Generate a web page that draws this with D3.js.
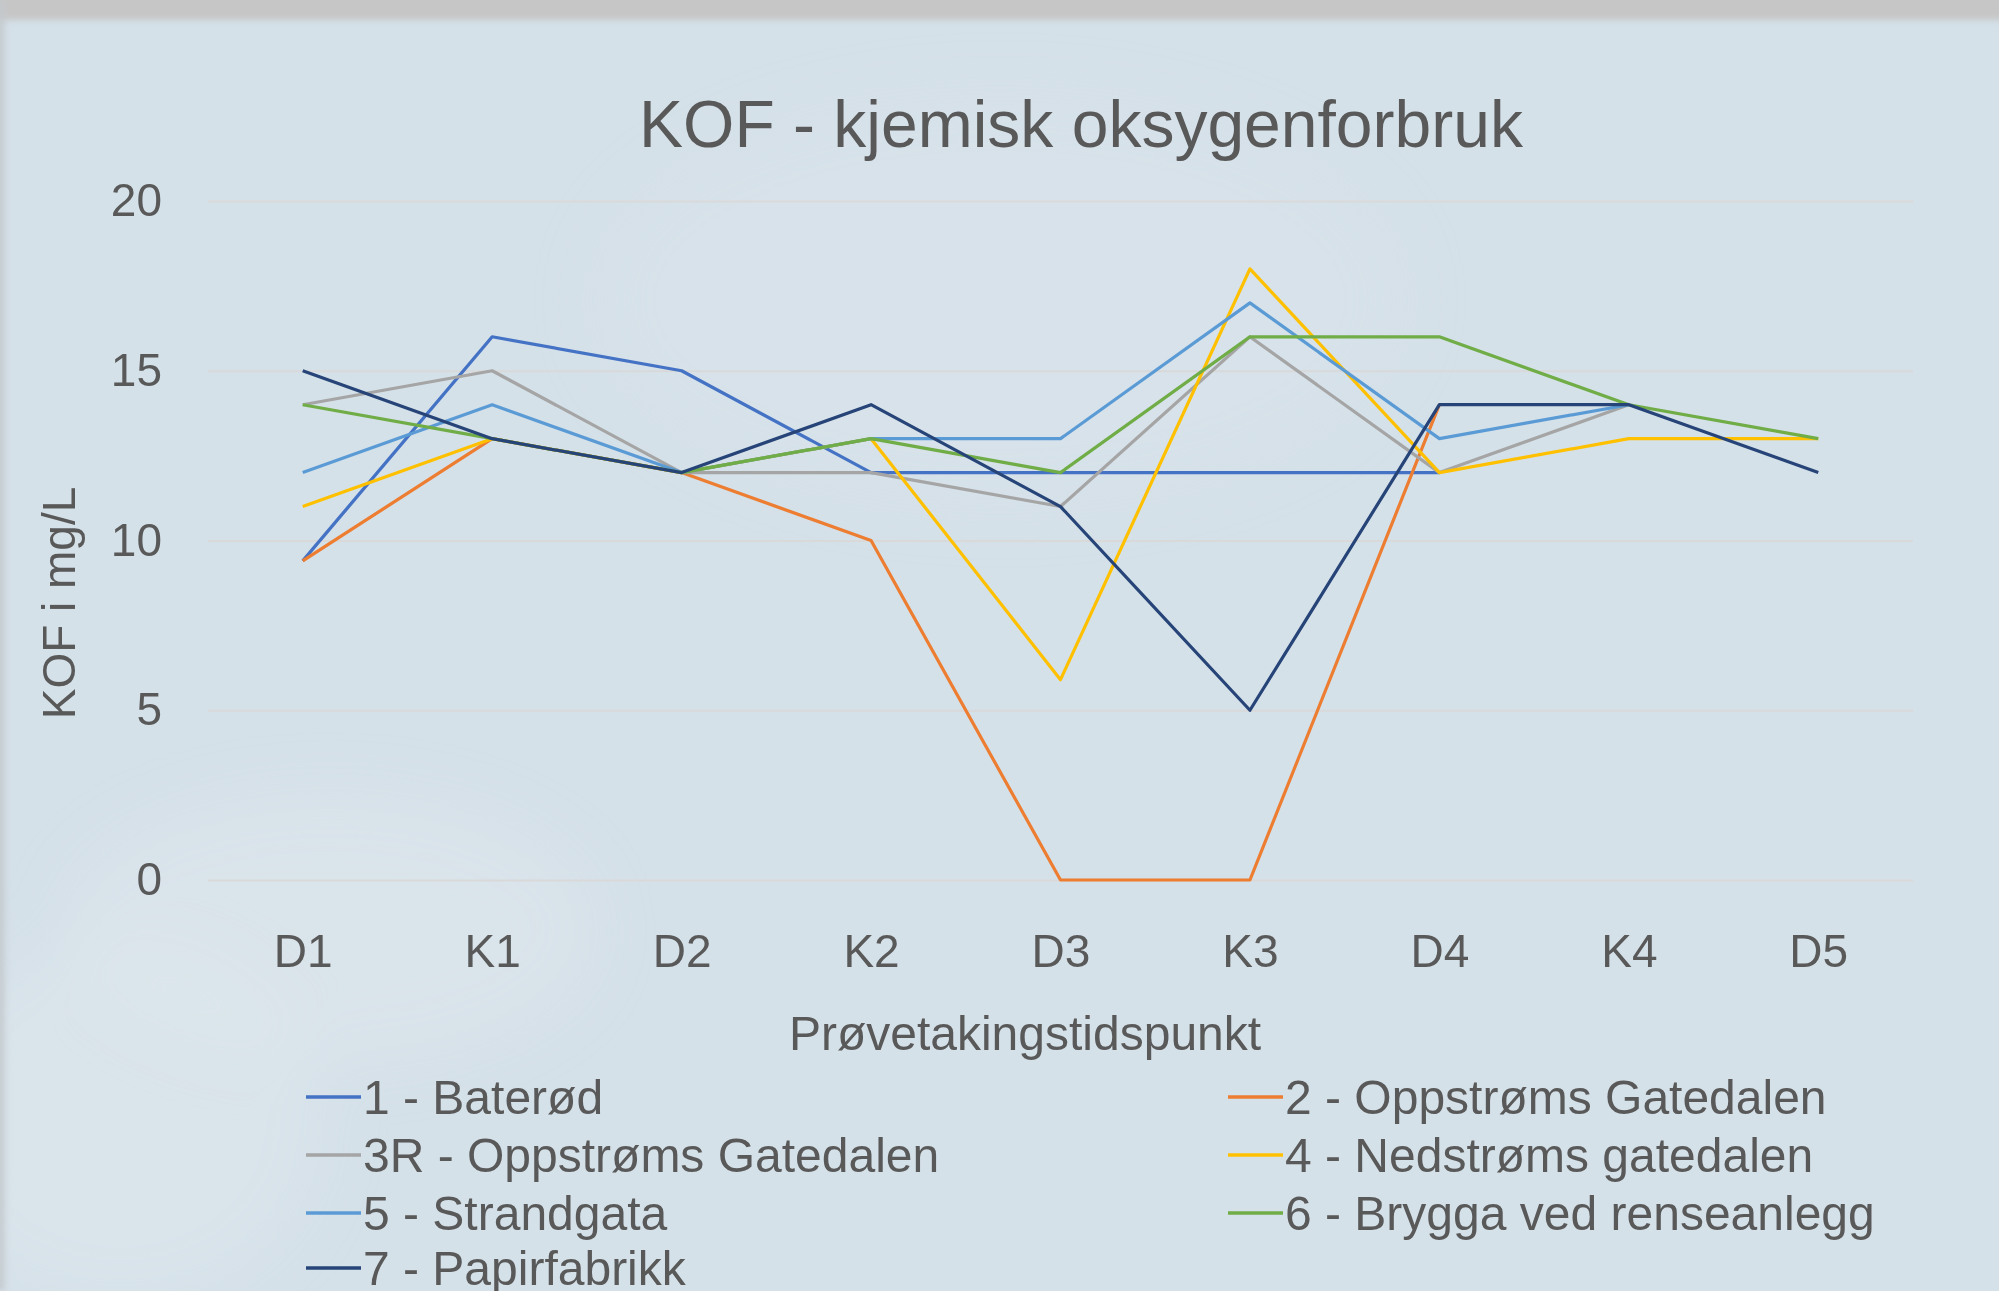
<!DOCTYPE html>
<html>
<head>
<meta charset="utf-8">
<script src="https://cdn.jsdelivr.net/npm/d3@7"></script>
<style>
  html, body { margin: 0; padding: 0; background: #d5e1e9; }
  svg { display: block; font-family: "Liberation Sans", Arial, sans-serif; }
</style>
</head>
<body>
<div id="chart"></div>
<script>
const categories = ['D1', 'K1', 'D2', 'K2', 'D3', 'K3', 'D4', 'K4', 'D5'];
const yTicks = [0, 5, 10, 15, 20];

const seriesNames = [
  '1 - Baterød',
  '2 - Oppstrøms Gatedalen',
  '3R - Oppstrøms Gatedalen',
  '4 - Nedstrøms gatedalen',
  '5 - Strandgata',
  '6 - Brygga ved renseanlegg',
  '7 - Papirfabrikk',
];

// values per sampling point, null = no measurement
const baterod = [9.4, 16, 15, 12, 12, 12, 12, null, null];
const oppstromsGatedalen = [9.4, 13, 12, 10, 0, 0, 14, null, null];
const oppstromsGatedalen3R = [14, 15, 12, 12, 11, 16, 12, 14, null];
const nedstromsGatedalen = [11, 13, 12, 13, 5.9, 18, 12, 13, 13];
const strandgata = [12, 14, 12, 13, 13, 17, 13, 14, null];
const brygga = [14, 13, 12, 13, 12, 16, 16, 14, 13];
const papirfabrikk = [15, 13, 12, 14, 11, 5, 14, 14, 12];

const seriesValues = [
  baterod, oppstromsGatedalen, oppstromsGatedalen3R, nedstromsGatedalen,
  strandgata, brygga, papirfabrikk,
];
const colors = ['#4472c4', '#ed7d31', '#a5a5a5', '#ffc000', '#5b9bd5', '#70ad47', '#264478'];

const width = 1999;
const height = 1291;
const plot = { left: 208, right: 1913, top: 201, bottom: 880 };
const textColor = '#595959';

const svg = d3.select('#chart')
  .append('svg')
  .attr('width', width)
  .attr('height', height);

// background: pale blue slide with a faint blurred snowy photo
const defs = svg.append('defs');
defs.append('filter').attr('id', 'soft')
  .attr('x', '-50%').attr('y', '-50%').attr('width', '200%').attr('height', '200%')
  .append('feGaussianBlur').attr('stdDeviation', 30);
defs.append('filter').attr('id', 'edge')
  .append('feGaussianBlur').attr('stdDeviation', 3);

svg.append('rect').attr('width', width).attr('height', height).attr('fill', '#d5e1e9');

const bg = svg.append('g').attr('filter', 'url(#soft)');
bg.append('ellipse').attr('cx', 330).attr('cy', 930).attr('rx', 260).attr('ry', 130)
  .attr('fill', '#dfe8ee').attr('opacity', 0.5);
bg.append('ellipse').attr('cx', 120).attr('cy', 1120).attr('rx', 200).attr('ry', 180)
  .attr('fill', '#dde7ed').attr('opacity', 0.5);
bg.append('ellipse').attr('cx', 1000).attr('cy', 300).attr('rx', 400).attr('ry', 200)
  .attr('fill', '#d9e4eb').attr('opacity', 0.5);

const frame = svg.append('g').attr('filter', 'url(#edge)');
frame.append('rect').attr('x', -10).attr('y', -10).attr('width', width + 20).attr('height', 30)
  .attr('fill', '#c6c6c6');
frame.append('rect').attr('x', -10).attr('y', 0).attr('width', 15).attr('height', height)
  .attr('fill', '#c3c8cc').attr('opacity', 0.8);

// scales
const x = d3.scalePoint()
  .domain(categories)
  .range([plot.left, plot.right])
  .padding(0.5);

const y = d3.scaleLinear()
  .domain([0, 20])
  .range([plot.bottom, plot.top]);

// gridlines + y labels
const yG = svg.append('g')
  .attr('transform', `translate(${plot.left},0)`)
  .call(d3.axisLeft(y).tickValues(yTicks).tickSize(-(plot.right - plot.left)).tickPadding(46));
yG.select('.domain').remove();
yG.selectAll('.tick line').attr('stroke', '#d9d9d9').attr('stroke-width', 2);
yG.selectAll('.tick text')
  .attr('fill', textColor)
  .style('font-size', '46px')
  .style('font-family', '"Liberation Sans", Arial, sans-serif');

// x labels
const xG = svg.append('g')
  .attr('transform', `translate(0,${plot.bottom})`)
  .call(d3.axisBottom(x).tickSize(0).tickPadding(54));
xG.select('.domain').remove();
xG.selectAll('.tick text')
  .attr('fill', textColor)
  .style('font-size', '46px')
  .style('font-family', '"Liberation Sans", Arial, sans-serif');

// lines
const line = d3.line()
  .defined(d => d != null)
  .x((d, i) => x(categories[i]))
  .y(d => y(d));

svg.append('g')
  .selectAll('path')
  .data(seriesValues)
  .join('path')
  .attr('d', line)
  .attr('fill', 'none')
  .attr('stroke', (d, i) => colors[i])
  .attr('stroke-width', 3.2)
  .attr('stroke-linejoin', 'round');

// titles
svg.append('text')
  .attr('x', 1081)
  .attr('y', 147)
  .attr('text-anchor', 'middle')
  .attr('fill', textColor)
  .style('font-size', '66px')
  .text('KOF - kjemisk oksygenforbruk');

svg.append('text')
  .attr('x', 1025)
  .attr('y', 1050)
  .attr('text-anchor', 'middle')
  .attr('fill', textColor)
  .style('font-size', '48px')
  .text('Prøvetakingstidspunkt');

svg.append('text')
  .attr('transform', 'translate(75,603) rotate(-90)')
  .attr('text-anchor', 'middle')
  .attr('fill', textColor)
  .style('font-size', '46px')
  .text('KOF i mg/L');

// legend, two columns; the last row runs into the bottom edge as in the original
const legendCols = [306, 1228];
const legendRows = [1097, 1155, 1213, 1268];
const legend = svg.append('g')
  .selectAll('g')
  .data(seriesNames)
  .join('g')
  .attr('transform', (d, i) => `translate(${legendCols[i % 2]},${legendRows[Math.floor(i / 2)]})`);

legend.append('line')
  .attr('x1', 0).attr('x2', 55)
  .attr('stroke', (d, i) => colors[i])
  .attr('stroke-width', 3.5);

legend.append('text')
  .attr('x', 57)
  .attr('dy', '0.36em')
  .attr('fill', textColor)
  .style('font-size', '48px')
  .text(d => d);
</script>
</body>
</html>
